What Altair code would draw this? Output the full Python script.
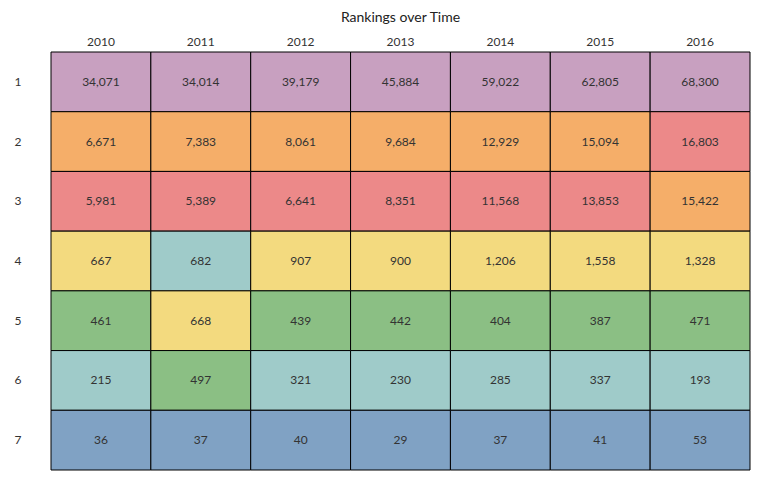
import altair as alt
import pandas as pd

years = ["2010", "2011", "2012", "2013", "2014", "2015", "2016"]
ranks = [1, 2, 3, 4, 5, 6, 7]
values = [
    [34071, 34014, 39179, 45884, 59022, 62805, 68300],
    [6671, 7383, 8061, 9684, 12929, 15094, 16803],
    [5981, 5389, 6641, 8351, 11568, 13853, 15422],
    [667, 682, 907, 900, 1206, 1558, 1328],
    [461, 668, 439, 442, 404, 387, 471],
    [215, 497, 321, 230, 285, 337, 193],
    [36, 37, 40, 29, 37, 41, 53],
]
groups = [
    ["A"] * 7,
    ["B"] * 6 + ["C"],
    ["C"] * 6 + ["B"],
    ["D", "F", "D", "D", "D", "D", "D"],
    ["E", "D", "E", "E", "E", "E", "E"],
    ["F", "E", "F", "F", "F", "F", "F"],
    ["G"] * 7,
]
group_names = ["A", "B", "C", "D", "E", "F", "G"]
group_colors = ["#c8a0c0", "#f5ae69", "#ec8989", "#f3da7f", "#8bbf84", "#9fcbc9", "#80a2c4"]

rows = []
for i, r in enumerate(ranks):
    for j, y in enumerate(years):
        rows.append({"rank": r, "year": y, "value": values[i][j], "group": groups[i][j]})
df = pd.DataFrame(rows)

base = alt.Chart(df).encode(
    x=alt.X("year:O", title=None, sort=years,
            axis=alt.Axis(orient="top", labelAngle=0, domain=False, ticks=False,
                          labelPadding=4, labelFontSize=12, labelColor="#333")),
    y=alt.Y("rank:O", title=None, sort=ranks,
            axis=alt.Axis(domain=False, ticks=False, labelAlign="left",
                          labelPadding=37, labelFontSize=12, labelColor="#333")),
)
rects = base.mark_rect(stroke="black", strokeWidth=1).encode(
    color=alt.Color("group:N", scale=alt.Scale(domain=group_names, range=group_colors), legend=None)
)
text = base.mark_text(fontSize=12, color="#333").encode(text=alt.Text("value:Q", format=",d"))

chart = (
    (rects + text)
    .properties(
        width=699, height=418,
        title=alt.Title("Rankings over Time", fontSize=14, fontWeight="normal", color="#222", offset=10),
        autosize="none",
        padding={"left": 43, "top": 44, "right": 20, "bottom": 20},
    )
    .configure(font="Lato")
    .configure_view(stroke=None)
    .configure_scale(bandPaddingInner=0, bandPaddingOuter=0)
)
chart.save("out.html", embed_options={"renderer": "svg", "actions": False})
